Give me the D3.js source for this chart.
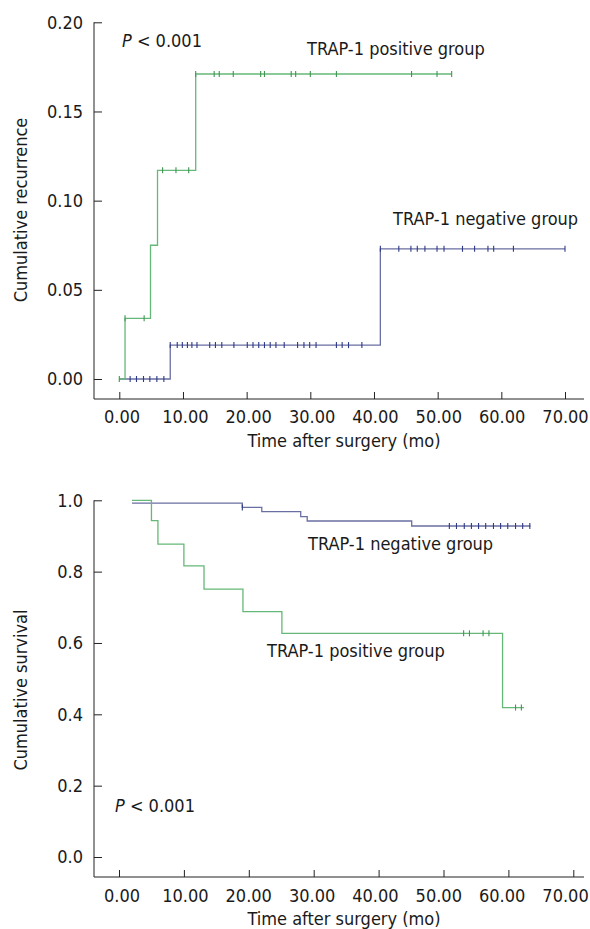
<!DOCTYPE html>
<html>
<head>
<meta charset="utf-8">
<script src="https://cdn.jsdelivr.net/npm/d3@7"></script>
<style>
  body { margin: 0; background: #fff; }
  svg text { font-family: "DejaVu Sans Condensed", "DejaVu Sans", sans-serif; font-stretch: condensed; font-size: 18px; fill: #1a1a1a; }
</style>
</head>
<body>
<svg id="chart" width="590" height="929"></svg>
<script>
// ---- data ----
var xTicks = [0, 10, 20, 30, 40, 50, 60, 70];
var recurTicks = [0, 0.05, 0.10, 0.15, 0.20];
var survTicks = [0, 0.2, 0.4, 0.6, 0.8, 1.0];

// cumulative recurrence, TRAP-1 positive: [time, value] at each step
var recurPosSteps = [[0, 0], [0.9, 0.034], [4.9, 0.075], [6.0, 0.117], [12.0, 0.171]];
var recurPosEnd = 52.2;
var recurPosCensor = [0, 0.9, 3.9, 6.8, 8.9, 10.9, 12.0, 14.9, 15.7, 17.9, 22.2, 22.8, 27.0, 27.7, 30.0, 34.1, 45.9, 49.9, 52.2];

// cumulative recurrence, TRAP-1 negative
var recurNegSteps = [[0, 0], [8.0, 0.019], [41.0, 0.073]];
var recurNegEnd = 70.0;
var recurNegCensor = [1.7, 2.7, 3.8, 4.8, 5.9, 7.0, 8.0, 9.1, 9.9, 10.7, 11.4, 12.2, 14.2, 15.1, 16.1, 18.0,
  20.1, 21.0, 21.9, 22.8, 23.7, 24.6, 25.9, 28.0, 29.0, 29.9, 30.9, 34.1, 35.0, 36.0, 38.1,
  41.0, 43.9, 45.8, 46.8, 48.0, 49.9, 51.0, 53.9, 55.8, 57.9, 58.8, 61.9, 70.0];

// cumulative survival, TRAP-1 positive
var survPosSteps = [[2.0, 1.0], [5.0, 0.943], [6.0, 0.877], [10.0, 0.816], [13.1, 0.751], [19.1, 0.688], [25.1, 0.627], [59.1, 0.419]];
var survPosEnd = 62.4;
var survPosCensor = [53.1, 54.0, 56.1, 57.0, 61.1, 62.0];

// cumulative survival, TRAP-1 negative
var survNegSteps = [[2.0, 0.992], [19.0, 0.980], [22.0, 0.968], [28.0, 0.954], [29.0, 0.942], [45.1, 0.928]];
var survNegEnd = 63.4;
var survNegCensor = [19.0, 50.9, 52.0, 53.2, 54.3, 55.4, 56.5, 57.7, 58.8, 59.9, 61.1, 62.2, 63.3];

var green = "#66b878", greenMark = "#3f9652";
var blue = "#6a6fa3", blueMark = "#2d3984";

var svg = d3.select("#chart");
var axisX = 94, axisEnd = 584;
// tick labels sit at the same place in both panels, even where the ticks don't
var labelX = d3.scaleLinear().domain([0, 70]).range([121.5, 565]);

function stepValue(steps, t) {
  var v = steps[0][1];
  steps.forEach(function (s) { if (s[0] <= t) v = s[1]; });
  return v;
}

function drawPanel(p) {
  var x = d3.scaleLinear().domain([0, 70]).range(p.xRange);
  var y = d3.scaleLinear().domain([0, p.yMax]).range(p.yRange);
  var g = svg.append("g");

  // y axis, ticks pointing inward
  g.append("g")
    .attr("transform", "translate(" + axisX + ",0)")
    .style("color", "#222")
    .call(d3.axisLeft(y).tickValues(p.yTicks).tickFormat(d3.format(p.yFmt))
      .tickSizeInner(-8).tickSizeOuter(0).tickPadding(11))
    .call(function (a) { a.select(".domain").remove(); });

  // x axis, ticks pointing up
  g.append("g")
    .attr("transform", "translate(0," + p.axisY + ")")
    .style("color", "#222")
    .call(d3.axisBottom(x).tickValues(xTicks).tickFormat(d3.format(".2f"))
      .tickSizeInner(-7).tickSizeOuter(0).tickPadding(p.xPad))
    .call(function (a) {
      a.select(".domain").remove();
      a.selectAll(".tick text").attr("dx", function (d) { return labelX(d) - x(d); });
    });

  g.append("path")
    .attr("d", "M" + axisX + "," + y(p.yMax) + "V" + p.axisY + "H" + axisEnd)
    .attr("fill", "none")
    .attr("stroke", "#222");

  // curves
  var line = d3.line()
    .x(function (d) { return x(d[0]); })
    .y(function (d) { return y(d[1]); })
    .curve(d3.curveStepAfter);

  p.curves.forEach(function (c) {
    var pts = c.steps.concat([[c.end, c.steps[c.steps.length - 1][1]]]);
    g.append("path")
      .datum(pts)
      .attr("fill", "none")
      .attr("stroke", c.color)
      .attr("stroke-width", 1.3)
      .attr("d", line);

    g.selectAll(null)
      .data(c.censor)
      .enter().append("line")
      .attr("x1", function (d) { return x(d); })
      .attr("x2", function (d) { return x(d); })
      .attr("y1", function (d) { return y(stepValue(c.steps, d)) - 3; })
      .attr("y2", function (d) { return y(stepValue(c.steps, d)) + 3; })
      .attr("stroke", c.mark)
      .attr("stroke-width", 1.1);
  });

  // titles
  g.append("text")
    .attr("transform", "translate(27," + p.yTitleY + ") rotate(-90)")
    .attr("text-anchor", "middle")
    .text(p.yTitle);

  g.append("text")
    .attr("x", 344)
    .attr("y", p.xTitleY)
    .attr("text-anchor", "middle")
    .text("Time after surgery (mo)");

  var pt = g.append("text").attr("x", p.pPos[0]).attr("y", p.pPos[1]);
  pt.append("tspan").style("font-style", "italic").text("P");
  pt.append("tspan").text(" < 0.001");

  p.labels.forEach(function (l) {
    g.append("text").attr("x", l[1]).attr("y", l[2]).text(l[0]);
  });
}

drawPanel({
  xRange: [119.3, 565], yRange: [379, 22.3], yMax: 0.20,
  yTicks: recurTicks, yFmt: ".2f", axisY: 399, xPad: 11,
  yTitle: "Cumulative recurrence", yTitleY: 210, xTitleY: 447,
  pPos: [122, 47],
  labels: [["TRAP-1 positive group", 307, 55], ["TRAP-1 negative group", 393, 225]],
  curves: [
    { steps: recurNegSteps, end: recurNegEnd, censor: recurNegCensor, color: blue, mark: blueMark },
    { steps: recurPosSteps, end: recurPosEnd, censor: recurPosCensor, color: green, mark: greenMark }
  ]
});

drawPanel({
  xRange: [119, 573.3], yRange: [857, 500.3], yMax: 1.0,
  yTicks: survTicks, yFmt: ".1f", axisY: 877, xPad: 12,
  yTitle: "Cumulative survival", yTitleY: 690, xTitleY: 925,
  pPos: [115, 812],
  labels: [["TRAP-1 negative group", 308, 550], ["TRAP-1 positive group", 267, 657]],
  curves: [
    { steps: survNegSteps, end: survNegEnd, censor: survNegCensor, color: blue, mark: blueMark },
    { steps: survPosSteps, end: survPosEnd, censor: survPosCensor, color: green, mark: greenMark }
  ]
});
</script>
</body>
</html>
